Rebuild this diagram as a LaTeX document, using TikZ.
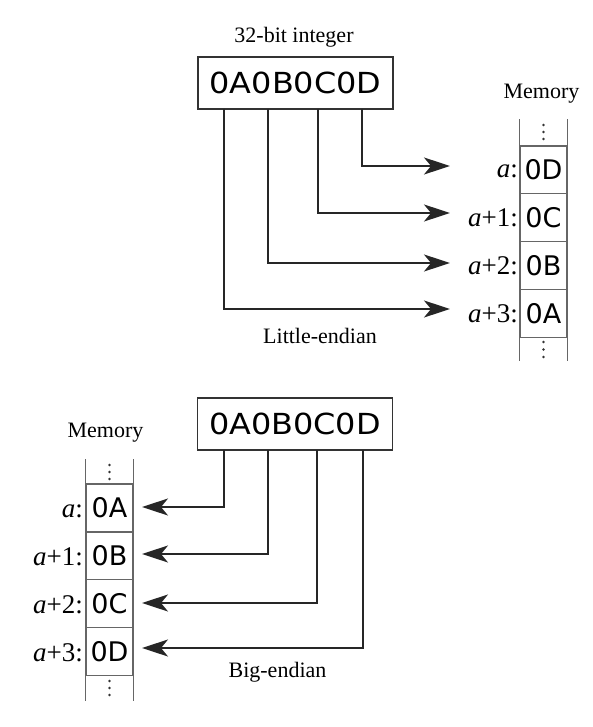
\documentclass[tikz,border=0pt]{standalone}
\usepackage{fontspec}
\setmainfont{Liberation Serif}
\newfontfamily\hexfont{DejaVu Sans}
\newfontfamily\hexwide[FakeStretch=1.1]{DejaVu Sans}
\usetikzlibrary{arrows.meta}
\begin{document}
\begin{tikzpicture}[x=1pt,y=-1pt,
  intbox/.style={draw=black!80, line width=1.6pt, minimum width=195pt, minimum height=52pt, inner sep=0pt,
    font=\hexwide\fontsize{29}{32}\selectfont},
  cell/.style={draw=black!60, line width=1.4pt, minimum width=47pt, minimum height=47.8pt, inner sep=0pt,
    font=\hexfont\fontsize{27}{30}\selectfont},
  side/.style={draw=black!60, line width=1.4pt},
  dot/.style={fill=black!80, draw=none},
  title/.style={anchor=base, inner sep=0pt, font=\fontsize{22}{26}\selectfont},
  lbl/.style={anchor=base east, inner sep=0pt, font=\fontsize{27}{30}\selectfont},
  conn/.style={draw=black!85, line width=1.8pt, -{Stealth[length=26pt,width=17pt,inset=7pt]}}
]
\useasboundingbox (0,0) rectangle (592,727);

% ---------------- Little-endian ----------------
\node[title] (ttitle) at (294,43) {32-bit integer};
\node[intbox] (top) at (295.5,83) {0A0B0C0D};
\node[title] (tmem) at (541.5,99) {Memory};

\node[cell] (m0) at (543.5,169.9) {0D};
\node[cell] (m1) at (543.5,217.7) {0C};
\node[cell] (m2) at (543.5,265.5) {0B};
\node[cell] (m3) at (543.5,313.3) {0A};
\draw[side] (m0.north west) -- ++(0,-26);
\draw[side] (m0.north east) -- ++(0,-26);
\draw[side] (m3.south west) -- ++(0,23);
\draw[side] (m3.south east) -- ++(0,23);
\foreach \yy in {125,132,139,342,349.5,357}
  \fill[dot] (543.5,\yy) circle (1.3pt);

\node[lbl] (l0) at (518,178) {\textit{a}:};
\node[lbl] (l1) at (518,226) {\textit{a}+1:};
\node[lbl] (l2) at (518,274) {\textit{a}+2:};
\node[lbl] (l3) at (518,322) {\textit{a}+3:};

\coordinate (ts1) at (224,109);
\coordinate (ts2) at (268,109);
\coordinate (ts3) at (318,109);
\coordinate (ts4) at (362,109);
\coordinate (ta0) at (450,166);
\coordinate (ta1) at (450,213);
\coordinate (ta2) at (450,263);
\coordinate (ta3) at (450,309);
\draw[conn] (ts4) |- (ta0);
\draw[conn] (ts3) |- (ta1);
\draw[conn] (ts2) |- (ta2);
\draw[conn] (ts1) |- (ta3);

\node[title] (ltitle) at (320,343) {Little-endian};

% ---------------- Big-endian ----------------
\node[intbox] (bot) at (295,424) {0A0B0C0D};
\node[title] (bmem) at (105.5,437) {Memory};

\node[cell] (n0) at (109.5,508) {0A};
\node[cell] (n1) at (109.5,555.8) {0B};
\node[cell] (n2) at (109.5,603.6) {0C};
\node[cell] (n3) at (109.5,651.4) {0D};
\draw[side] (n0.north west) -- ++(0,-24);
\draw[side] (n0.north east) -- ++(0,-24);
\draw[side] (n3.south west) -- ++(0,25);
\draw[side] (n3.south east) -- ++(0,25);
\foreach \yy in {465,472,479,681,688,695}
  \fill[dot] (109.5,\yy) circle (1.3pt);

\node[lbl] (k0) at (83,517) {\textit{a}:};
\node[lbl] (k1) at (83,565) {\textit{a}+1:};
\node[lbl] (k2) at (83,613) {\textit{a}+2:};
\node[lbl] (k3) at (83,661) {\textit{a}+3:};

\coordinate (bs1) at (224,450);
\coordinate (bs2) at (268,450);
\coordinate (bs3) at (317,450);
\coordinate (bs4) at (363,450);
\coordinate (ba0) at (142,507);
\coordinate (ba1) at (142,554);
\coordinate (ba2) at (142,603);
\coordinate (ba3) at (142,648);
\draw[conn] (bs1) |- (ba0);
\draw[conn] (bs2) |- (ba1);
\draw[conn] (bs3) |- (ba2);
\draw[conn] (bs4) |- (ba3);

\node[title] (btitle) at (277.5,677) {Big-endian};
\end{tikzpicture}
\end{document}
